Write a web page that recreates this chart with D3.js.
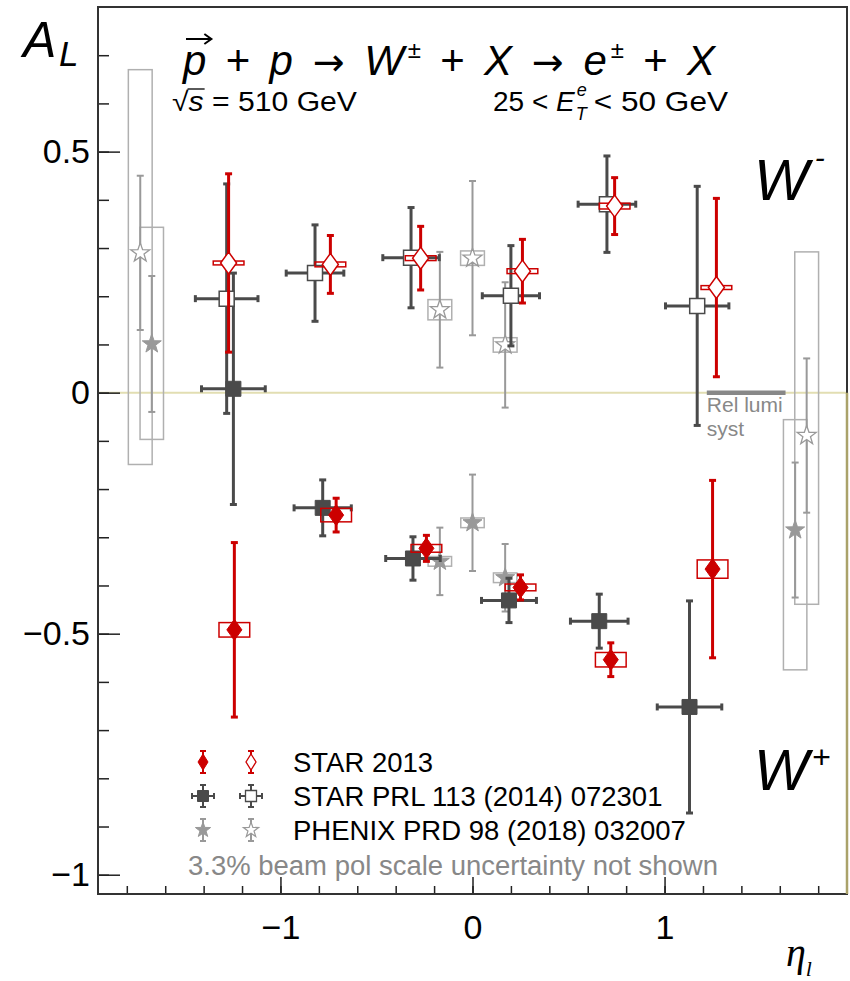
<!DOCTYPE html>
<html>
<head>
<meta charset="utf-8">
<script src="https://cdn.jsdelivr.net/npm/d3@7"></script>
<style>
body { margin: 0; background: #fff; }
text { font-family: "Liberation Sans", Arial, sans-serif; }
</style>
</head>
<body>
<div id="chart"></div>
<script>
// ---- data ----
// STAR 2013, W- (open diamonds) and W+ (filled diamonds)
var star13WmEta = [-1.27, -0.74, -0.27, 0.26, 0.74, 1.27];
var star13WmA = [0.269, 0.266, 0.279, 0.252, 0.387, 0.218];
var star13WmStat = [0.185, 0.060, 0.066, 0.066, 0.059, 0.185];
var star13WmSys = [0.004, 0.005, 0.005, 0.005, 0.006, 0.004];

var star13WpEta = [-1.24, -0.71, -0.24, 0.25, 0.72, 1.25];
var star13WpA = [-0.492, -0.254, -0.323, -0.404, -0.554, -0.366];
var star13WpStat = [0.181, 0.035, 0.027, 0.026, 0.035, 0.184];
var star13WpSys = [0.015, 0.014, 0.008, 0.007, 0.015, 0.019];

// STAR PRL 113 (2014) 072301
var prlWmEta = [-1.28, -0.82, -0.32, 0.20, 0.70, 1.17];
var prlWmA = [0.195, 0.248, 0.280, 0.201, 0.391, 0.180];
var prlWmStat = [0.238, 0.100, 0.104, 0.104, 0.100, 0.248];
var prlWmEtaErr = [0.163, 0.150, 0.147, 0.149, 0.150, 0.165];

var prlWpEta = [-1.245, -0.78, -0.31, 0.19, 0.66, 1.13];
var prlWpA = [0.008, -0.239, -0.344, -0.431, -0.474, -0.652];
var prlWpStat = [0.240, 0.058, 0.045, 0.046, 0.056, 0.220];
var prlWpEtaErr = [0.166, 0.149, 0.142, 0.143, 0.150, 0.168];

// PHENIX PRD 98 (2018) 032007
var phxWmEta = [-1.73, -0.17, 0.0, 0.17, 1.74];
var phxWmA = [0.290, 0.172, 0.279, 0.099, -0.089];
var phxWmStat = [0.160, 0.120, 0.160, 0.130, 0.160];
var phxWmSysLo = [0.439, 0.021, 0.015, 0.015, 0.350];
var phxWmSysHi = [0.380, 0.021, 0.015, 0.015, 0.381];

var phxWpEta = [-1.67, -0.17, 0.0, 0.17, 1.68];
var phxWpA = [0.101, -0.350, -0.270, -0.384, -0.285];
var phxWpStat = [0.141, 0.070, 0.100, 0.070, 0.140];
var phxWpSysLo = [0.198, 0.010, 0.010, 0.010, 0.290];
var phxWpSysHi = [0.242, 0.010, 0.010, 0.010, 0.229];

var relLumiEta = [1.22, 1.63];

var xMajorTicks = [-1, 0, 1];
var yMajorTicks = [-1, -0.5, 0, 0.5];
var legendLabels = ["STAR 2013", "STAR PRL 113 (2014) 072301", "PHENIX PRD 98 (2018) 032007"];
var noteText = "3.3% beam pol scale uncertainty not shown";

// ---- colours ----
var red = "#cc0000", dark = "#4a4a4a", grey = "#999999", greyBox = "#b0b0b0";

var svg = d3.select("#chart").append("svg")
    .attr("width", 850)
    .attr("height", 981);

var x = d3.scaleLinear().domain([-1.95, 1.95]).range([98, 847]);
var y = d3.scaleLinear().domain([-1.04, 0.80]).range([894, 7]);

// zero line
svg.append("line")
    .attr("x1", x(-1.95)).attr("x2", x(1.95))
    .attr("y1", y(0)).attr("y2", y(0))
    .attr("stroke", "#e2deb2").attr("stroke-width", 2);

// axes
var gy = svg.append("g").attr("transform", "translate(98,0)");
gy.call(d3.axisLeft(y).tickValues(d3.range(-1, 0.75, 0.1)).tickSize(-11).tickFormat(""));
var gy2 = svg.append("g").attr("transform", "translate(98,0)");
gy2.call(d3.axisLeft(y).tickValues(yMajorTicks).tickSize(-22).tickPadding(8).tickFormat(d3.format("")));

var gx = svg.append("g").attr("transform", "translate(0,894)");
gx.call(d3.axisBottom(x).tickValues(d3.range(-1.8, 1.85, 0.2)).tickSize(-8).tickFormat(""));
var gx2 = svg.append("g").attr("transform", "translate(0,894)");
gx2.call(d3.axisBottom(x).tickValues(xMajorTicks).tickSize(-17).tickPadding(21).tickFormat(d3.format("")));

svg.selectAll(".domain").remove();
svg.selectAll(".tick line").attr("stroke", "#222").attr("stroke-width", 1.5);
svg.selectAll(".tick text").attr("fill", "#000").style("font-size", "34px")
    .style("font-family", "'Liberation Sans', Arial, sans-serif");

// frame
svg.append("rect")
    .attr("x", x(-1.95)).attr("y", y(0.80))
    .attr("width", x(1.95) - x(-1.95)).attr("height", y(-1.04) - y(0.80))
    .attr("fill", "none").attr("stroke", "#333").attr("stroke-width", 2);
svg.append("line")
    .attr("x1", x(1.95)).attr("x2", x(1.95))
    .attr("y1", y(0)).attr("y2", y(-1.04))
    .attr("stroke", "#aaa26a").attr("stroke-width", 2.5);

// ---- helpers ----
function makePts(eta, a, stat, extra) {
    return eta.map(function(e, i) {
        var p = {eta: e, a: a[i], stat: stat[i]};
        for (var k in extra) p[k] = extra[k][i];
        return p;
    });
}

function starPath(R) {
    var r = R * 0.4, s = "";
    for (var i = 0; i < 10; i++) {
        var rr = i % 2 ? r : R;
        var ang = -Math.PI / 2 + i * Math.PI / 5;
        s += (i ? "L" : "M") + (rr * Math.cos(ang)).toFixed(2) + "," + (rr * Math.sin(ang)).toFixed(2);
    }
    return s + "Z";
}
function diamondPath(w, h) {
    return "M0," + (-h) + "L" + w + ",0L0," + h + "L" + (-w) + ",0Z";
}

function sysBoxes(pts, halfW, color, sw) {
    svg.append("g").selectAll("rect").data(pts).enter().append("rect")
        .attr("x", function(d) { return x(d.eta - halfW); })
        .attr("width", function(d) { return x(d.eta + halfW) - x(d.eta - halfW); })
        .attr("y", function(d) { return y(d.a + d.hi); })
        .attr("height", function(d) { return y(d.a - d.lo) - y(d.a + d.hi); })
        .attr("fill", "none").attr("stroke", color).attr("stroke-width", sw);
}

function errBars(pts, color, sw, cap) {
    var g = svg.append("g").attr("stroke", color).attr("stroke-width", sw);
    g.selectAll(".v").data(pts).enter().append("line")
        .attr("x1", function(d) { return x(d.eta); })
        .attr("x2", function(d) { return x(d.eta); })
        .attr("y1", function(d) { return y(d.a + d.stat); })
        .attr("y2", function(d) { return y(d.a - d.stat); });
    [1, -1].forEach(function(sg) {
        g.selectAll(null).data(pts).enter().append("line")
            .attr("x1", function(d) { return x(d.eta) - cap; })
            .attr("x2", function(d) { return x(d.eta) + cap; })
            .attr("y1", function(d) { return y(d.a + sg * d.stat); })
            .attr("y2", function(d) { return y(d.a + sg * d.stat); });
    });
    var hp = pts.filter(function(d) { return d.etaErr; });
    g.selectAll(".h").data(hp).enter().append("line")
        .attr("x1", function(d) { return x(d.eta - d.etaErr); })
        .attr("x2", function(d) { return x(d.eta + d.etaErr); })
        .attr("y1", function(d) { return y(d.a); })
        .attr("y2", function(d) { return y(d.a); });
    [1, -1].forEach(function(sg) {
        g.selectAll(null).data(hp).enter().append("line")
            .attr("x1", function(d) { return x(d.eta + sg * d.etaErr); })
            .attr("x2", function(d) { return x(d.eta + sg * d.etaErr); })
            .attr("y1", function(d) { return y(d.a) - cap; })
            .attr("y2", function(d) { return y(d.a) + cap; });
    });
}

function markers(pts, path, fill, stroke, sw) {
    svg.append("g").selectAll("path").data(pts).enter().append("path")
        .attr("transform", function(d) { return "translate(" + x(d.eta) + "," + y(d.a) + ")"; })
        .attr("d", path)
        .attr("fill", fill).attr("stroke", stroke).attr("stroke-width", sw);
}

// ---- PHENIX ----
var phxWm = makePts(phxWmEta, phxWmA, phxWmStat, {lo: phxWmSysLo, hi: phxWmSysHi});
var phxWp = makePts(phxWpEta, phxWpA, phxWpStat, {lo: phxWpSysLo, hi: phxWpSysHi});
sysBoxes(phxWm, 0.062, greyBox, 1.5);
sysBoxes(phxWp, 0.061, greyBox, 1.5);
errBars(phxWm, grey, 2, 3.5);
errBars(phxWp, grey, 2, 3.5);
markers(phxWm, starPath(10), "#fff", grey, 1.3);
markers(phxWp, starPath(10), grey, grey, 1);

// ---- STAR PRL 2014 ----
var prlWm = makePts(prlWmEta, prlWmA, prlWmStat, {etaErr: prlWmEtaErr});
var prlWp = makePts(prlWpEta, prlWpA, prlWpStat, {etaErr: prlWpEtaErr});
errBars(prlWm, dark, 3, 3.5);
errBars(prlWp, dark, 3, 3.5);
markers(prlWm, "M-7.5,-7.5H7.5V7.5H-7.5Z", "#fff", dark, 1.5);
markers(prlWp, "M-7.5,-7.5H7.5V7.5H-7.5Z", dark, dark, 1);

// ---- STAR 2013 ----
var s13Wm = makePts(star13WmEta, star13WmA, star13WmStat, {lo: star13WmSys, hi: star13WmSys});
var s13Wp = makePts(star13WpEta, star13WpA, star13WpStat, {lo: star13WpSys, hi: star13WpSys});
sysBoxes(s13Wm, 0.08, red, 1.5);
sysBoxes(s13Wp, 0.08, red, 1.5);
errBars(s13Wm, red, 3, 3.5);
errBars(s13Wp, red, 3, 3.5);
markers(s13Wm, diamondPath(8, 11), "#fff", red, 1.5);
markers(s13Wp, diamondPath(7.5, 10.5), red, red, 1);

// ---- relative luminosity systematic ----
svg.append("line")
    .attr("x1", x(relLumiEta[0])).attr("x2", x(relLumiEta[1]))
    .attr("y1", y(0)).attr("y2", y(0))
    .attr("stroke", "#888").attr("stroke-width", 4.5);
svg.append("text").attr("x", x(relLumiEta[0])).attr("y", 412)
    .attr("fill", "#888").style("font-size", "21px").text("Rel lumi");
svg.append("text").attr("x", x(relLumiEta[0])).attr("y", 436)
    .attr("fill", "#888").style("font-size", "21px").text("syst");

// ---- labels ----
var al = svg.append("text").attr("x", 23).attr("y", 57).style("font-size", "50px").style("font-style", "italic");
al.append("tspan").text("A");
al.append("tspan").attr("x", 59).attr("y", 66).style("font-size", "35px").text("L");

var title = svg.append("text").attr("x", 183).attr("y", 75)
    .style("font-size", "42px")
    .attr("textLength", 532).attr("lengthAdjust", "spacing");
title.append("tspan").style("font-style", "italic").text("p");
title.append("tspan").text(" + ");
title.append("tspan").style("font-style", "italic").text("p");
title.append("tspan").style("font-family", "'DejaVu Sans', sans-serif").style("font-size", "38px").text(" \u2192 ");
title.append("tspan").style("font-style", "italic").text("W");
title.append("tspan").attr("dy", -17).style("font-size", "24px").text("\u00b1");
title.append("tspan").attr("dy", 17).text(" + ");
title.append("tspan").style("font-style", "italic").text("X");
title.append("tspan").style("font-family", "'DejaVu Sans', sans-serif").style("font-size", "38px").text(" \u2192 ");
title.append("tspan").style("font-style", "italic").text("e");
title.append("tspan").attr("dy", -17).style("font-size", "24px").text("\u00b1");
title.append("tspan").attr("dy", 17).text(" + ");
title.append("tspan").style("font-style", "italic").text("X");
// vector arrow over the first p
var tn = title.node();
var p0 = tn.getStartPositionOfChar(0).x, p1 = tn.getEndPositionOfChar(0).x;
var ax0 = p0 + 3, ax1 = p1 + 5, ay = 39;
svg.append("path")
    .attr("d", "M" + ax0 + "," + ay + "H" + ax1 + "M" + (ax1 - 7) + "," + (ay - 5) + "L" + ax1 + "," + ay + "L" + (ax1 - 7) + "," + (ay + 5))
    .attr("fill", "none").attr("stroke", "#000").attr("stroke-width", 2);

var sq = svg.append("text").attr("x", 172).attr("y", 111).style("font-size", "27px")
    .attr("textLength", 185).attr("lengthAdjust", "spacingAndGlyphs");
sq.append("tspan").text("\u221a");
sq.append("tspan").style("font-style", "italic").text("s");
sq.append("tspan").text(" = 510 GeV");
var sn = sq.node();
var s0 = sn.getStartPositionOfChar(1).x, s1 = sn.getEndPositionOfChar(1).x;
svg.append("line").attr("x1", s0 - 1).attr("x2", s1 + 1).attr("y1", 89).attr("y2", 89)
    .attr("stroke", "#000").attr("stroke-width", 1.3);

var et = svg.append("text").attr("x", 493).attr("y", 111).style("font-size", "28px");
et.append("tspan").text("25 < ");
et.append("tspan").style("font-style", "italic").text("E");
var eEnd = et.node().getEndPositionOfChar(5).x;
svg.append("text").attr("x", eEnd + 1).attr("y", 120).style("font-size", "18px").style("font-style", "italic").text("T");
svg.append("text").attr("x", eEnd + 2).attr("y", 96).style("font-size", "18px").style("font-style", "italic").text("e");
svg.append("text").attr("x", eEnd + 19).attr("y", 111).style("font-size", "28px")
    .attr("textLength", 728 - eEnd - 19).attr("lengthAdjust", "spacingAndGlyphs").text("< 50 GeV");

var wm = svg.append("text").attr("x", 754).attr("y", 200).style("font-size", "58px").style("font-style", "italic");
wm.append("tspan").text("W");
wm.append("tspan").attr("dx", 6).attr("dy", -32).style("font-size", "30px").text("-");
var wp = svg.append("text").attr("x", 754).attr("y", 790).style("font-size", "58px").style("font-style", "italic");
wp.append("tspan").text("W");
wp.append("tspan").attr("dx", 3).attr("dy", -22).style("font-size", "32px").text("+");

var eta = svg.append("text").attr("x", 786).attr("y", 966)
    .style("font-family", "'Liberation Serif', serif").style("font-size", "40px").style("font-style", "italic");
eta.append("tspan").text("\u03b7");
eta.append("tspan").attr("dy", 10).style("font-size", "22px").text("l");

// ---- legend ----
var legY = [762, 796, 830];
var legX = [203, 251];
var lg = svg.append("g");
function legBar(cx, cy, color, sw, v, h) {
    lg.append("line").attr("x1", cx).attr("x2", cx).attr("y1", cy - v).attr("y2", cy + v).attr("stroke", color).attr("stroke-width", sw);
    lg.append("line").attr("x1", cx - 3).attr("x2", cx + 3).attr("y1", cy - v).attr("y2", cy - v).attr("stroke", color).attr("stroke-width", sw);
    lg.append("line").attr("x1", cx - 3).attr("x2", cx + 3).attr("y1", cy + v).attr("y2", cy + v).attr("stroke", color).attr("stroke-width", sw);
    if (h) {
        lg.append("line").attr("x1", cx - h).attr("x2", cx + h).attr("y1", cy).attr("y2", cy).attr("stroke", color).attr("stroke-width", sw);
        lg.append("line").attr("x1", cx - h).attr("x2", cx - h).attr("y1", cy - 3).attr("y2", cy + 3).attr("stroke", color).attr("stroke-width", sw);
        lg.append("line").attr("x1", cx + h).attr("x2", cx + h).attr("y1", cy - 3).attr("y2", cy + 3).attr("stroke", color).attr("stroke-width", sw);
    }
}
function legMark(cx, cy, path, fill, stroke, sw) {
    lg.append("path").attr("transform", "translate(" + cx + "," + cy + ")").attr("d", path)
        .attr("fill", fill).attr("stroke", stroke).attr("stroke-width", sw);
}
legBar(legX[0], legY[0], red, 2, 11);
legBar(legX[1], legY[0], red, 2, 11);
legMark(legX[0], legY[0], diamondPath(5, 8), red, red, 1);
legMark(legX[1], legY[0], diamondPath(5, 8), "#fff", red, 1.3);
legBar(legX[0], legY[1], dark, 2, 11, 11);
legBar(legX[1], legY[1], dark, 2, 11, 11);
legMark(legX[0], legY[1], "M-5.5,-5.5H5.5V5.5H-5.5Z", dark, dark, 1);
legMark(legX[1], legY[1], "M-5.5,-5.5H5.5V5.5H-5.5Z", "#fff", dark, 1.3);
legBar(legX[0], legY[2], grey, 2, 11);
legBar(legX[1], legY[2], grey, 2, 11);
legMark(legX[0], legY[2], starPath(8), grey, grey, 1);
legMark(legX[1], legY[2], starPath(8), "#fff", grey, 1.2);

lg.selectAll(".lt").data(legendLabels).enter().append("text")
    .attr("x", 293)
    .attr("y", function(d, i) { return legY[i] + 10; })
    .style("font-size", "27.5px")
    .text(function(d) { return d; });
svg.append("text").attr("x", 188).attr("y", 875).attr("fill", "#888").style("font-size", "27px")
    .attr("textLength", 530).attr("lengthAdjust", "spacingAndGlyphs").text(noteText);
</script>
</body>
</html>
